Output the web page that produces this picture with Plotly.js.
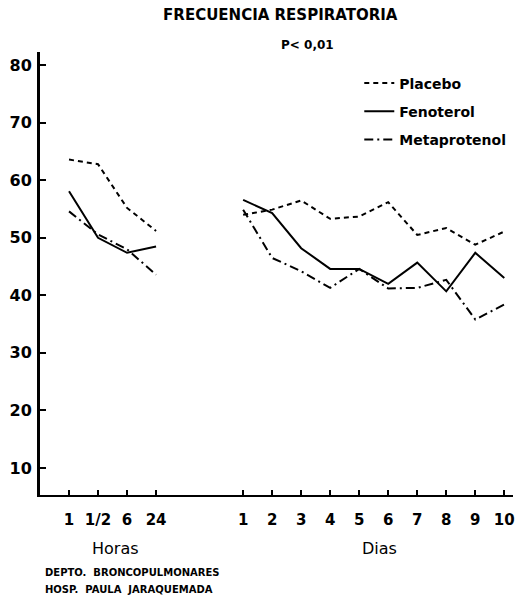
<!DOCTYPE html>
<html><head><meta charset="utf-8">
<script src="https://cdn.plot.ly/plotly-3.0.1.min.js"></script>
<style>html,body{margin:0;padding:0;background:#fff}#chart{width:519px;height:595px}</style>
</head><body><div id="chart"></div>
<script>
const hourLabels = ["1", "1/2", "6", "24"];
const dayLabels = ["1", "2", "3", "4", "5", "6", "7", "8", "9", "10"];
const seriesNames = ["Placebo", "Fenoterol", "Metaprotenol"];
const placeboHours = [63.6, 62.8, 55.2, 51.2];
const placeboDays = [54.0, 54.9, 56.5, 53.3, 53.7, 56.2, 50.5, 51.7, 48.8, 51.1];
const fenoterolHours = [58.1, 50.0, 47.4, 48.5];
const fenoterolDays = [56.6, 54.3, 48.2, 44.6, 44.6, 42.0, 45.7, 40.7, 47.4, 43.0];
const metaHours = [54.6, 50.6, 48.0, 43.6];
const metaDays = [54.9, 46.5, 44.2, 41.3, 44.6, 41.2, 41.3, 42.7, 35.8, 38.4];
const yTicks = [10, 20, 30, 40, 50, 60, 70, 80];

const hourPos = hourLabels.map((_, i) => i + 1);
const dayPos = dayLabels.map((_, i) => i + 7);
const gapPos = 5.5;
const xAll = hourPos.concat([gapPos], dayPos);

const FONT = "DejaVu Sans, Liberation Sans, sans-serif";
const dashes = ["5px,4px", "solid", "9px,4px,2px,4px"];
const hoursData = [placeboHours, fenoterolHours, metaHours];
const daysData = [placeboDays, fenoterolDays, metaDays];

const traces = seriesNames.map((name, k) => ({
  type: "scatter", mode: "lines", name: name, legendgroup: name,
  x: xAll,
  y: hoursData[k].concat([null], daysData[k]),
  connectgaps: false,
  line: {color: "#000", width: 2, dash: dashes[k]}
}));

const layout = {
  width: 519, height: 595,
  margin: {l: 40, r: 6, t: 52, b: 100},
  paper_bgcolor: "#fff", plot_bgcolor: "#fff",
  showlegend: true,
  legend: {x: 0.675, y: 0.965, xanchor: "left", yanchor: "top",
    font: {family: FONT, size: 14, color: "#000", weight: "bold"},
    tracegroupgap: 7, bgcolor: "rgba(0,0,0,0)", itemwidth: 30},
  title: {text: "FRECUENCIA RESPIRATORIA", x: 0.508, xref: "paper", y: 0.975, yanchor: "middle",
    font: {family: FONT, size: 15, color: "#000", weight: "bold"}},
  xaxis: {range: [0, 16.3], showgrid: false, zeroline: false,
    showline: true, linecolor: "#000", linewidth: 2,
    tickmode: "array", tickvals: hourPos.concat(dayPos), ticktext: hourLabels.concat(dayLabels),
    ticks: "inside", ticklen: 5, tickwidth: 2, tickcolor: "#000",
    ticklabelstandoff: 10,
    tickfont: {family: FONT, size: 15, color: "#000", weight: "bold"}},
  yaxis: {range: [5.3, 82.3], showgrid: false, zeroline: false,
    showline: true, linecolor: "#000", linewidth: 3,
    tickmode: "array", tickvals: yTicks,
    ticks: "inside", ticklen: 6, tickwidth: 2, tickcolor: "#000",
    ticklabelstandoff: 2,
    tickfont: {family: FONT, size: 16, color: "#000", weight: "bold"}},
  annotations: [
    {text: "P< 0,01", xref: "paper", yref: "paper", x: (307 - 40) / 473, y: 1 + (52 - 45) / 443,
      showarrow: false, xanchor: "center", yanchor: "middle",
      font: {family: FONT, size: 12, color: "#000", weight: "bold"}},
    {text: "Horas", xref: "x", yref: "paper", x: 2.6, y: -(548 - 495) / 443,
      showarrow: false, xanchor: "center", yanchor: "middle",
      font: {family: FONT, size: 16, color: "#000"}},
    {text: "Dias", xref: "x", yref: "paper", x: 11.7, y: -(548 - 495) / 443,
      showarrow: false, xanchor: "center", yanchor: "middle",
      font: {family: FONT, size: 16, color: "#000"}},
    {text: "DEPTO.  BRONCOPULMONARES", xref: "paper", yref: "paper", x: (43 - 40) / 473, y: -(572 - 495) / 443,
      showarrow: false, xanchor: "left", yanchor: "middle",
      font: {family: FONT, size: 10, color: "#000", weight: "bold"}},
    {text: "HOSP.  PAULA  JARAQUEMADA", xref: "paper", yref: "paper", x: (43 - 40) / 473, y: -(589 - 495) / 443,
      showarrow: false, xanchor: "left", yanchor: "middle",
      font: {family: FONT, size: 10, color: "#000", weight: "bold"}}
  ]
};

Plotly.newPlot("chart", traces, layout, {staticPlot: true, displayModeBar: false});
</script></body></html>
